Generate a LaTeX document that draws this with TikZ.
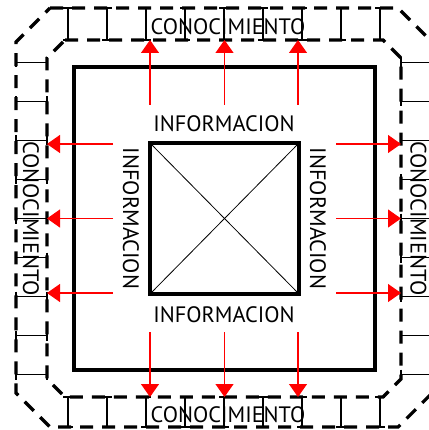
\documentclass[tikz,border=0pt]{standalone}
\usepackage{fontspec}
\setmainfont{PT Sans}
\usetikzlibrary{arrows.meta}
\begin{document}
\begin{tikzpicture}[x=1pt,y=-1pt,
  boxline/.style={draw,line width=3.6pt,inner sep=0pt,outer sep=0pt},
  band/.style={line width=3.2pt,dash pattern=on 13pt off 9pt},
  rung/.style={line width=1.3pt},
  rungcap/.style={line width=2.8pt},
  flow/.style={red,line width=1.1pt,-{Triangle[length=13pt,width=18pt]}},
  lbl/.style={inner sep=0pt,text height=15pt,text depth=0pt,font=\fontsize{22.3}{24}\selectfont}
]
\useasboundingbox (0,0) rectangle (428,430);
% dashed bands
\draw[band] (50,8) -- (398,8) -- (432,42) -- (432,393) -- (398,427) -- (50,427) -- (16,393) -- (16,42) -- cycle;
\draw[band] (65,40) -- (383,40) -- (401,58) -- (401,379) -- (383,397) -- (65,397) -- (47,379) -- (47,58) -- cycle;
% rungs
\foreach \x in {68,107,146,185,224,263,302,341,380}{
  \draw[rung] (\x,8) -- (\x,40);
  \draw[rungcap] (\x-5,8) -- (\x+5,8);
  \draw[rungcap] (\x-5,40) -- (\x+5,40);
  \draw[rung] (\x,397) -- (\x,427);
  \draw[rungcap] (\x-5,397) -- (\x+5,397);
  \draw[rungcap] (\x-5,427) -- (\x+5,427);
}
\foreach \y in {62.5,101.5,140.5,179.5,218.5,257.5,296.5,335.5,374.5}{
  \draw[rung] (16,\y) -- (47,\y);
  \draw[rungcap] (16,\y-5) -- (16,\y+5);
  \draw[rungcap] (47,\y-5) -- (47,\y+5);
  \draw[rung] (401,\y) -- (432,\y);
  \draw[rungcap] (401,\y-5) -- (401,\y+5);
  \draw[rungcap] (432,\y-5) -- (432,\y+5);
}
% squares
\node[boxline,minimum width=301pt,minimum height=303pt] (big) at (224.5,218.5) {};
\node[boxline,minimum width=149pt,minimum height=151pt] (core) at (224.5,218.5) {};
\draw[line width=0.8pt] (core.north west) -- (core.south east);
\draw[line width=0.8pt] (core.north east) -- (core.south west);
% labels
\node[lbl] (kt) at (228,27.5) {CONOCIMIENTO};
\node[lbl] (kb) at (228,415) {CONOCIMIENTO};
\node[lbl,rotate=-90] (kl) at (30.5,218.5) {CONOCIMIENTO};
\node[lbl,rotate=-90] (kr) at (418,218.5) {CONOCIMIENTO};
\node[lbl] (it) at (224,124.5) {INFORMACION};
\node[lbl] (ib) at (224,314.5) {INFORMACION};
\node[lbl,rotate=-90] (il) at (130.5,218.5) {INFORMACION};
\node[lbl,rotate=-90] (ir) at (317.5,218.5) {INFORMACION};
% arrows
\foreach \i/\x in {1/150,2/224.5,3/298}{
  \coordinate (ts\i) at (\x,105); \coordinate (te\i) at (\x,40);
  \coordinate (bs\i) at (\x,332); \coordinate (be\i) at (\x,397);
  \draw[flow] (ts\i) -- (te\i);
  \draw[flow] (bs\i) -- (be\i);
}
\foreach \i/\y in {1/144,2/218.5,3/293}{
  \coordinate (ls\i) at (113,\y); \coordinate (le\i) at (47,\y);
  \coordinate (rs\i) at (336,\y); \coordinate (re\i) at (401,\y);
  \draw[flow] (ls\i) -- (le\i);
  \draw[flow] (rs\i) -- (re\i);
}
\end{tikzpicture}
\end{document}
